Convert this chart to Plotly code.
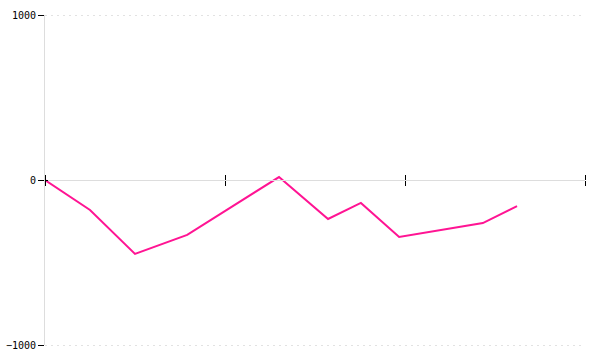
import plotly.graph_objects as go

x_vals = [0, 1, 2, 3.16, 5.2, 6.29, 7.02, 7.87, 9.73, 10.49]
y_vals = [0, -182, -448, -333, 18, -236, -139, -345, -261, -158]
y_ticks = [-1000, 0, 1000]
y_labels = ["\u22121000", "0", "1000"]
grid_ticks = [-1000, 1000]
x_ticks = [0, 4, 8, 12]

font = dict(family="DejaVu Sans Mono", size=10, color="#000")

H = 340.0
pad = 5.0
grid_half = 1000 * (H / 2) / (H / 2 - pad)

fig = go.Figure()
fig.add_trace(go.Scatter(x=[x_ticks[0]], y=[0], mode="markers", opacity=0,
                         xaxis="x3", yaxis="y3", showlegend=False, hoverinfo="skip"))
fig.add_trace(go.Scatter(x=x_vals, y=y_vals, mode="lines",
                         line=dict(color="#ff1493", width=2),
                         xaxis="x", yaxis="y", showlegend=False))
fig.add_trace(go.Scatter(x=[x_ticks[0]], y=[0], mode="markers", opacity=0,
                         xaxis="x2", yaxis="y2", showlegend=False, hoverinfo="skip"))

fig.update_layout(
    width=600, height=360,
    margin=dict(l=45, r=15, t=10, b=10, autoexpand=False),
    paper_bgcolor="white", plot_bgcolor="rgba(0,0,0,0)",
    font=font,
    xaxis3=dict(range=[0, 12], domain=[0, 1], visible=False, anchor="y3"),
    yaxis3=dict(range=[-grid_half, grid_half], domain=[0, 1], tickvals=grid_ticks,
                showticklabels=False, ticks="",
                showgrid=True, gridcolor="#e2e2e2", griddash="2px,4px", gridwidth=1,
                zeroline=False, showline=False, automargin=False, anchor="x3"),
    xaxis=dict(range=[0, 12], domain=[0, 1], tickvals=x_ticks, showticklabels=False,
               ticks="outside", ticklen=5, tickcolor="#000", tickwidth=1,
               showgrid=False, zeroline=False, automargin=False,
               showline=True, linecolor="#ddd", linewidth=1,
               anchor="free", position=0.5),
    xaxis2=dict(range=[0, 12], tickvals=x_ticks, showticklabels=False,
                ticks="outside", ticklen=5, tickcolor="#000", tickwidth=1,
                showgrid=False, zeroline=False, showline=False, automargin=False,
                overlaying="x", side="top", anchor="free", position=0.5),
    yaxis=dict(range=[-1000, 1000], domain=[pad / H, 1 - pad / H],
               tickvals=y_ticks, ticktext=y_labels,
               ticks="outside", ticklen=6, tickcolor="#000", tickwidth=1,
               showgrid=False,
               zeroline=True, zerolinecolor="#ddd", zerolinewidth=1,
               showline=True, linecolor="#ddd", linewidth=1, automargin=False,
               tickfont=font, anchor="x"),
    yaxis2=dict(range=[-1000, 1000], tickvals=y_ticks, showticklabels=False,
                ticks="inside", ticklen=3, tickcolor="#000", tickwidth=1,
                showgrid=False, zeroline=False, showline=False, automargin=False,
                overlaying="y", side="left", anchor="x2"),
)

fig.write_html("out.html")
